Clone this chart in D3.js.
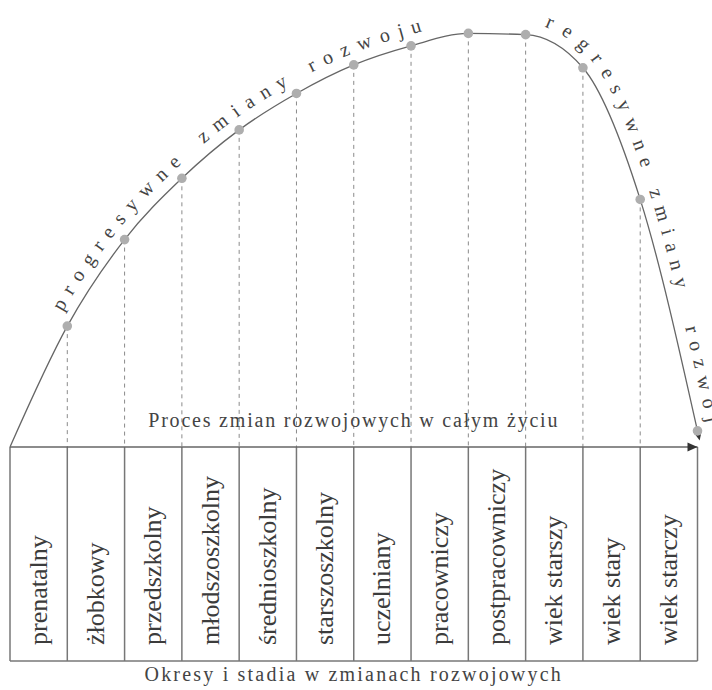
<!DOCTYPE html>
<html>
<head>
<meta charset="utf-8">
<script src="https://cdn.jsdelivr.net/npm/d3@7"></script>
<style>
  body { margin: 0; background: #fff; }
  svg { display: block; }
</style>
</head>
<body>
<div id="chart"></div>
<script>
const width = 712;
const height = 690;
const serif = "'Liberation Serif', 'Times New Roman', Times, 'DejaVu Serif', 'Noto Serif', serif";

// okresy (kolumny)
const stages = [
  "prenatalny", "żłobkowy", "przedszkolny", "młodszoszkolny",
  "średnioszkolny", "starszoszkolny", "uczelniany", "pracowniczy",
  "postpracowniczy", "wiek starszy", "wiek stary", "wiek starczy"
];

// poziom rozwoju na granicach okresów (0..12)
const levels = [0, 29.2, 50.1, 64.9, 76.6, 85.4, 92.3, 96.9, 99.9, 99.6, 91.6, 59.8, 3.9];

// napisy wzdłuż krzywej: słowo + miejsce startu (w jednostkach okresów)
const curveWords = ["progresywne", "zmiany", "rozwoju", "regresywne", "zmiany", "rozwoju"];
const wordStarts = [1.08, 3.5, 5.35, 9.25, 10.97, 11.6];

const axisTitle = "Proces zmian rozwojowych w całym życiu";
const boxTitle = "Okresy i stadia w zmianach rozwojowych";

const x = d3.scaleLinear().domain([0, 12]).range([10, 697.5]);
const y = d3.scaleLinear().domain([0, 100]).range([447, 33]);
const boxTop = y(0);
const boxBottom = 661;

const svg = d3.select("#chart")
  .append("svg")
  .attr("width", width)
  .attr("height", height)
  .style("font-family", serif);

const defs = svg.append("defs");
defs.append("marker")
  .attr("id", "arrowTip")
  .attr("viewBox", "0 -5 10 10")
  .attr("refX", 10)
  .attr("refY", 0)
  .attr("markerWidth", 11)
  .attr("markerHeight", 10)
  .attr("markerUnits", "userSpaceOnUse")
  .attr("orient", "auto")
  .append("path")
  .attr("d", "M0,-4.5L10,0L0,4.5Z")
  .attr("fill", "#333");

defs.append("marker")
  .attr("id", "arrowEnd")
  .attr("viewBox", "0 -5 10 10")
  .attr("refX", 0)
  .attr("refY", 0)
  .attr("markerWidth", 11)
  .attr("markerHeight", 10)
  .attr("markerUnits", "userSpaceOnUse")
  .attr("orient", "auto")
  .append("path")
  .attr("d", "M0,-4.5L10,0L0,4.5Z")
  .attr("fill", "#333");

// linie przerywane od punktów do osi
svg.selectAll(".drop")
  .data(levels.slice(1, 12))
  .enter()
  .append("line")
  .attr("class", "drop")
  .attr("x1", (d, i) => x(i + 1))
  .attr("x2", (d, i) => x(i + 1))
  .attr("y1", d => y(d))
  .attr("y2", boxTop)
  .attr("stroke", "#8a8a8a")
  .attr("stroke-width", 1)
  .attr("stroke-dasharray", "4,4");

// tabela okresów
const box = svg.append("g").attr("stroke", "#777").attr("stroke-width", 1.5).attr("fill", "none");
box.append("line").attr("x1", x(0)).attr("x2", x(0)).attr("y1", boxTop).attr("y2", boxBottom);
box.append("line").attr("x1", x(0)).attr("x2", x(12)).attr("y1", boxBottom).attr("y2", boxBottom);
box.selectAll(".div")
  .data(d3.range(1, 13))
  .enter()
  .append("line")
  .attr("x1", d => x(d))
  .attr("x2", d => x(d))
  .attr("y1", boxTop)
  .attr("y2", boxBottom);

svg.selectAll(".stage")
  .data(stages)
  .enter()
  .append("text")
  .attr("class", "stage")
  .attr("transform", (d, i) => `translate(${x(i + 0.5) + 8},${boxBottom - 16}) rotate(-90)`)
  .attr("font-size", 26)
  .attr("fill", "#3c3c3c")
  .text(d => d);

// oś pozioma ze strzałką
svg.append("line")
  .attr("x1", x(0))
  .attr("x2", x(12))
  .attr("y1", boxTop)
  .attr("y2", boxTop)
  .attr("stroke", "#666")
  .attr("stroke-width", 1.5)
  .attr("marker-end", "url(#arrowTip)");

// krzywa rozwoju
const line = d3.line()
  .x((d, i) => x(i))
  .y(d => y(d))
  .curve(d3.curveMonotoneX);

const curve = svg.append("path")
  .attr("id", "lifeCurve")
  .attr("d", line(levels))
  .attr("fill", "none")
  .attr("stroke", "#666")
  .attr("stroke-width", 1.3)
  .attr("marker-end", "url(#arrowEnd)");

svg.selectAll(".dot")
  .data(levels.slice(1))
  .enter()
  .append("circle")
  .attr("class", "dot")
  .attr("cx", (d, i) => x(i + 1))
  .attr("cy", d => y(d))
  .attr("r", 4.8)
  .attr("fill", "#aeaeae");

// długość krzywej odpowiadająca danemu x
const node = curve.node();
const total = node.getTotalLength();
function lengthAtX(px) {
  let lo = 0, hi = total;
  for (let k = 0; k < 40; k++) {
    const mid = (lo + hi) / 2;
    if (node.getPointAtLength(mid).x < px) lo = mid; else hi = mid;
  }
  return lo;
}

curveWords.forEach((w, i) => {
  svg.append("text")
    .attr("dy", -11)
    .attr("font-size", 20)
    .attr("letter-spacing", 8.5)
    .attr("fill", "#444")
    .append("textPath")
    .attr("href", "#lifeCurve")
    .attr("startOffset", lengthAtX(x(wordStarts[i])))
    .text(w);
});

svg.append("text")
  .attr("x", (x(0) + x(12)) / 2)
  .attr("y", 427)
  .attr("text-anchor", "middle")
  .attr("font-size", 20)
  .attr("letter-spacing", 1.8)
  .attr("fill", "#444")
  .text(axisTitle);

svg.append("text")
  .attr("x", (x(0) + x(12)) / 2)
  .attr("y", 681)
  .attr("text-anchor", "middle")
  .attr("font-size", 20)
  .attr("letter-spacing", 2.2)
  .attr("fill", "#444")
  .text(boxTitle);
</script>
</body>
</html>
